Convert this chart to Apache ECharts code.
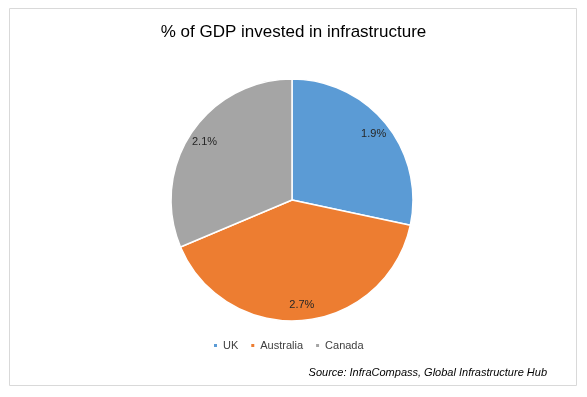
<!DOCTYPE html>
<html>
<head>
<meta charset="utf-8">
<script src="https://cdn.jsdelivr.net/npm/echarts@6/dist/echarts.min.js"></script>
<style>
  html, body { margin: 0; padding: 0; background: #fff; }
  #chart { width: 587px; height: 397px; }
</style>
</head>
<body>
<div id="chart"></div>
<script>
const categories = ['UK', 'Australia', 'Canada'];
const values = [1.9, 2.7, 2.1];
const colors = ['#5B9BD5', '#ED7D31', '#A5A5A5'];

const pieData = categories.map((name, i) => ({
  name,
  value: values[i],
  itemStyle: { color: colors[i] }
}));

const chart = echarts.init(document.getElementById('chart'));

chart.setOption({
  animation: false,
  title: {
    text: '% of GDP invested in infrastructure',
    left: 'center',
    top: 19,
    textStyle: { fontFamily: 'Liberation Sans', fontSize: 17, fontWeight: 'normal', color: '#000' }
  },
  legend: {
    top: 335,
    left: 207,
    icon: 'rect',
    itemWidth: 5,
    itemHeight: 5,
    itemGap: 11,
    data: categories,
    textStyle: { fontFamily: 'Liberation Sans', fontSize: 11, color: '#404040' }
  },
  graphic: [
    {
      type: 'rect',
      shape: { x: 9.5, y: 8.5, width: 567, height: 377 },
      style: { fill: 'none', stroke: '#D9D9D9', lineWidth: 1 },
      silent: true
    },
    {
      type: 'text',
      right: 40,
      top: 367,
      style: {
        text: 'Source: InfraCompass, Global Infrastructure Hub',
        font: 'italic 11px "Liberation Sans"',
        fill: '#000'
      }
    }
  ],
  series: [
    {
      type: 'pie',
      center: [292, 200],
      radius: [0, 121],
      startAngle: 90,
      clockwise: true,
      data: pieData,
      label: { show: false },
      labelLine: { show: false },
      itemStyle: { borderColor: '#fff', borderWidth: 1.5 }
    },
    {
      // transparent ring used only to place labels near the outer edge
      type: 'pie',
      center: [292, 200],
      radius: [0, 204],
      startAngle: 90,
      clockwise: true,
      silent: true,
      data: pieData.map(d => ({ name: d.name, value: d.value, itemStyle: { color: 'transparent' } })),
      itemStyle: { borderWidth: 0 },
      label: {
        show: true,
        position: 'inside',
        formatter: p => p.value.toFixed(1) + '%',
        fontFamily: 'Liberation Sans',
        fontSize: 11,
        color: '#262626'
      },
      labelLine: { show: false }
    }
  ]
});

window.addEventListener('resize', () => chart.resize());
</script>
</body>
</html>
